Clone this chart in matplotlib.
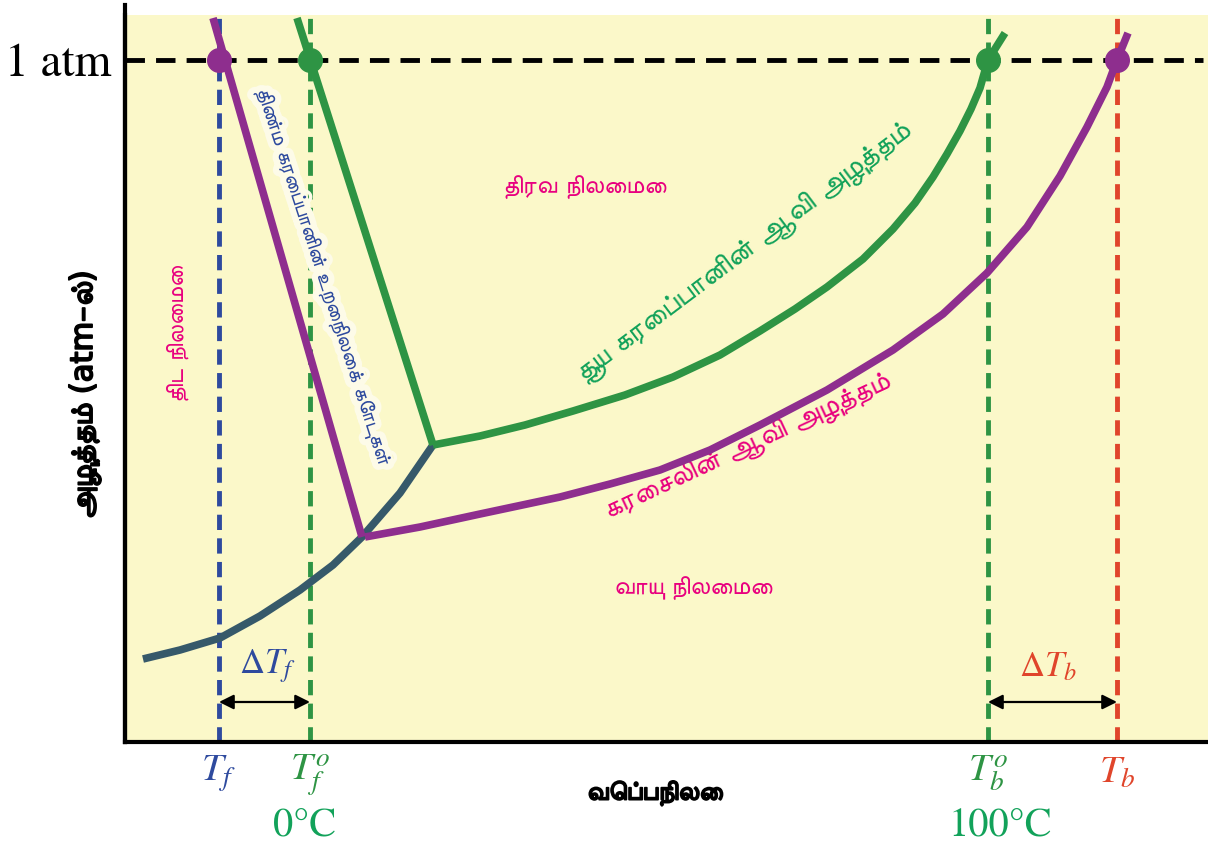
import numpy as np
import matplotlib
matplotlib.use("Agg")
import matplotlib.pyplot as plt
import matplotlib.patheffects as pe
from matplotlib import font_manager
from matplotlib.ft2font import FT2Font

# --- data (x: temperature, y: pressure, arbitrary units) ---
t_f, t_f0, t_b0, t_b = 94, 185, 863, 992
p_atm = 682
p_top = 724

# freezing lines (pure solvent / solution)
solid_pure_x = [172, 308]
solid_pure_y = [724, 297]
solid_soln_x = [88, 237]
solid_soln_y = [724, 205]

# sublimation curve
subl_x = [18, 55, 95, 135, 175, 208, 237, 275, 308]
subl_y = [83, 92, 104, 126, 152, 177, 205, 249, 297]

# vapour pressure of pure solvent
pure_x = [308, 355, 400, 448, 500, 548, 595, 635, 670, 702, 738, 768, 790, 808, 822, 835, 846, 855, 863, 880]
pure_y = [297, 306, 317, 331, 347, 365, 387, 411, 433, 455, 483, 513, 539, 565, 588, 611, 633, 654, 682, 709]

# vapour pressure of solution
soln_x = [240, 295, 355, 435, 485, 535, 585, 635, 702, 768, 818, 862, 902, 935, 962, 982, 992, 1003]
soln_y = [205, 215, 228, 245, 258, 272, 292, 317, 352, 392, 428, 469, 515, 566, 615, 655, 682, 709]

tick_pos = [t_f, t_f0, t_b0, t_b]
tick_lab = [r"$T_f$", r"$T_f^{o}$", r"$T_b^{o}$", r"$T_b$"]

# --- colours ---
bg = "#fbf8c9"
purple = "#8e2e8e"
green = "#2e9444"
slate = "#36596a"
blue = "#2e4a9e"
red = "#e0452b"
magenta = "#e8007f"
tgreen = "#12a25a"


def find_tamil():
    found = []
    for f in font_manager.fontManager.ttflist:
        try:
            if FT2Font(f.fname).get_char_index(0x0BA4):
                found.append(f.name)
        except Exception:
            pass
    # prefer proportional sans fonts over mono ones
    found.sort(key=lambda n: ("Mono" in n or "Code" in n, "Sans" not in n))
    return found[0] if found else None


tam = find_tamil()
tfam = ["DejaVu Sans", tam] if tam else ["DejaVu Sans"]
fake_bold = [pe.withStroke(linewidth=1.3, foreground="black")]

plt.rcParams["mathtext.fontset"] = "stix"
plt.rcParams["lines.scale_dashes"] = False

fig = plt.figure(figsize=(12.08, 8.48), dpi=100)
ax = fig.add_axes([125 / 1208, 106 / 848, 1083 / 1208, 727 / 848])
ax.set_facecolor(bg)
ax.set_xlim(0, 1083)
ax.set_ylim(0, 727)

for s in ["top", "right"]:
    ax.spines[s].set_visible(False)
for s in ["left", "bottom"]:
    ax.spines[s].set_linewidth(3)
ax.plot([0, 0], [0, 737], color="black", lw=3, clip_on=False, zorder=10)

# 1 atm line
ax.plot([0, 1078], [p_atm, p_atm], color="black", lw=3.5, dashes=(14, 8), zorder=3)

# vertical dashed guides
for x, c in zip(tick_pos, [blue, green, green, red]):
    ax.plot([x, x], [0, p_top], color=c, lw=3.5, dashes=(11, 6), zorder=2)

# curves
kw = dict(lw=5.5, solid_capstyle="butt", solid_joinstyle="round", zorder=4)
ax.plot(subl_x, subl_y, color=slate, **kw)
ax.plot(solid_pure_x, solid_pure_y, color=green, **kw)
ax.plot(pure_x, pure_y, color=green, **kw)
ax.plot(solid_soln_x, solid_soln_y, color=purple, **kw)
ax.plot(soln_x, soln_y, color=purple, **kw)

# points at 1 atm
ax.plot([t_f, t_b], [p_atm, p_atm], "o", color=purple, ms=17, zorder=5)
ax.plot([t_f0, t_b0], [p_atm, p_atm], "o", color=green, ms=17, zorder=5)

# delta arrows
for a, b in [(t_f, t_f0), (t_b0, t_b)]:
    ax.annotate("", xy=(b, 40), xytext=(a, 40),
                arrowprops=dict(arrowstyle="<|-|>", color="black", lw=1.6,
                                mutation_scale=22, shrinkA=0, shrinkB=0))
ax.text((t_f + t_f0) / 2 + 3, 76, r"$\Delta T_f$", color=blue, fontsize=25,
        ha="center", va="center")
ax.text((t_b0 + t_b) / 2 - 5, 76, r"$\Delta T_b$", color=red, fontsize=25,
        ha="center", va="center")

# ticks
ax.set_xticks(tick_pos, tick_lab, fontsize=28)
for lab, c in zip(ax.get_xticklabels(), [blue, green, green, red]):
    lab.set_color(c)
ax.tick_params(axis="x", length=0, pad=8)
ax.set_yticks([p_atm], ["1 atm"], fontsize=34, family="STIXGeneral")
ax.tick_params(axis="y", length=0, pad=10)

ax.text(t_f0 - 5, -85, "0°C", color=tgreen, fontsize=29, family="STIXGeneral",
        ha="center", va="center", clip_on=False)
ax.text(t_b0 + 12, -85, "100°C", color=tgreen, fontsize=29, family="STIXGeneral",
        ha="center", va="center", clip_on=False)

# axis labels (weight faked with a stroke, the Tamil face has no bold)
ax.set_xlabel("வெப்பநிலை", family=tfam, fontsize=19, path_effects=fake_bold)
ax.xaxis.set_label_coords(0.489, -0.052)
ax.set_ylabel("அழுத்தம் (atm–ல்)", family=tfam, fontsize=22, path_effects=fake_bold)
ax.yaxis.set_label_coords(-0.022, 0.477)

# region labels
ax.text(52, 409, "திட நிலைமை", family=tfam, color=magenta, fontsize=17,
        rotation=90, ha="center", va="center")
ax.text(460, 555, "திரவ நிலைமை", family=tfam, color=magenta, fontsize=18,
        ha="center", va="center")
ax.text(568, 154, "வாயு நிலைமை", family=tfam, color=magenta, fontsize=18,
        ha="center", va="center")

ax.text(620, 489, "தூய கரைப்பானின் ஆவி அழுத்தம்", family=tfam, color=tgreen,
        fontsize=21, rotation=37, ha="center", va="center", rotation_mode="anchor")
ax.text(623, 295, "கரைசலின் ஆவி அழுத்தம்", family=tfam, color=magenta,
        fontsize=20, rotation=25, ha="center", va="center", rotation_mode="anchor")
ax.text(198, 465, "திண்ம கரைப்பானின் உறைநிலைக் கோடுகள்", family=tfam, color=blue,
        fontsize=15, rotation=-72, ha="center", va="center", rotation_mode="anchor",
        path_effects=[pe.withStroke(linewidth=9, foreground="#fdfbe8")])

fig.savefig("out.png", dpi=100)
